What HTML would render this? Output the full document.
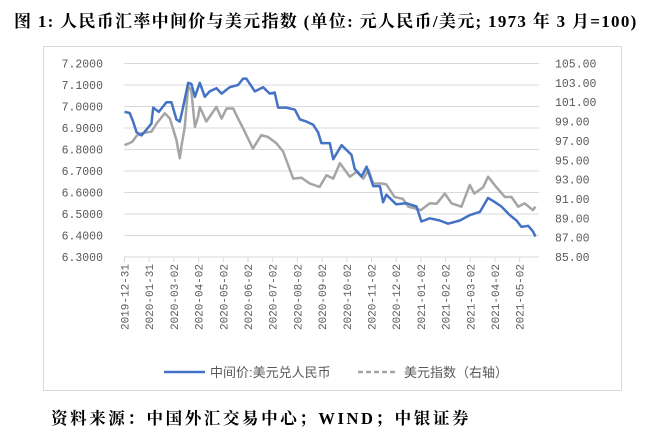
<!DOCTYPE html>
<html><head><meta charset="utf-8"><style>
body{margin:0;width:666px;height:442px;background:#fff;overflow:hidden;position:relative;font-family:"Liberation Serif","Noto Serif CJK SC",serif}
#title{position:absolute;left:14px;top:7px;font-size:17px;font-weight:bold;white-space:nowrap;color:#000;letter-spacing:1.3px}
#src{position:absolute;left:51px;top:405px;font-size:16.5px;font-weight:bold;white-space:nowrap;letter-spacing:2.6px}
svg{position:absolute;left:0;top:0}
</style></head><body>
<div id="title">图 1: 人民币汇率中间价与美元指数 (单位: 元人民币/美元; 1973 年 3 月=100)</div>
<svg id="chart" width="666" height="442"></svg>
<div id="src">资料来源：中国外汇交易中心；WIND；中银证券</div>
<script>
const xLabels=["2019-12-31","2020-01-31","2020-03-02","2020-04-02","2020-05-02","2020-06-02","2020-07-02","2020-08-02","2020-09-02","2020-10-02","2020-11-02","2020-12-02","2021-01-02","2021-02-02","2021-03-02","2021-04-02","2021-05-02"];
const leftTicks=[7.2,7.1,7.0,6.9,6.8,6.7,6.6,6.5,6.4,6.3];
const rightTicks=[105,103,101,99,97,95,93,91,89,87,85];
const cnyMonths=[0,0.21,0.35,0.49,0.69,1.09,1.16,1.39,1.7,1.9,2.1,2.24,2.37,2.58,2.71,2.85,3.05,3.25,3.45,3.72,3.93,4.26,4.6,4.8,4.93,5.28,5.61,5.88,6.08,6.22,6.55,6.9,7.1,7.37,7.64,7.84,7.97,8.31,8.45,8.79,9.19,9.32,9.6,9.8,10.07,10.34,10.47,10.6,11.0,11.42,11.82,12.02,12.36,12.76,13.1,13.58,13.98,14.39,14.72,15.0,15.26,15.6,15.87,16.07,16.34,16.53,16.64];
const cnyValues=[6.975,6.97,6.93,6.88,6.865,6.92,6.995,6.975,7.02,7.02,6.94,6.93,6.995,7.11,7.105,7.045,7.11,7.045,7.07,7.085,7.06,7.09,7.1,7.13,7.13,7.07,7.09,7.06,7.065,6.995,6.995,6.985,6.94,6.93,6.915,6.88,6.83,6.83,6.755,6.82,6.775,6.71,6.675,6.72,6.63,6.63,6.555,6.59,6.545,6.55,6.535,6.465,6.48,6.47,6.455,6.47,6.495,6.51,6.575,6.555,6.535,6.495,6.47,6.44,6.445,6.42,6.395];
const dxyMonths=[0,0.31,0.48,0.69,1.09,1.3,1.63,1.84,2.1,2.24,2.31,2.44,2.58,2.71,2.85,2.98,3.05,3.31,3.72,3.93,4.13,4.4,4.6,4.8,5.2,5.54,5.81,6.15,6.42,6.83,7.16,7.5,7.9,8.18,8.45,8.72,9.12,9.4,9.67,9.88,10.07,10.4,10.6,10.93,11.27,11.49,12.0,12.36,12.63,12.97,13.24,13.64,13.98,14.16,14.52,14.72,15.06,15.4,15.67,15.94,16.2,16.53,16.64];
const dxyValues=[96.56,96.9,97.5,97.8,97.95,98.8,99.85,99.3,97.1,95.2,96.56,98.45,102.75,102.1,98.45,99.5,100.5,99,100.5,99.3,100.35,100.35,99.3,98.3,96.2,97.6,97.4,96.75,95.9,93.1,93.2,92.6,92.25,93.45,93.1,94.7,93.3,93.8,93.1,94.0,92.6,92.6,92.5,91.2,91.0,90.2,89.85,90.55,90.5,91.55,90.55,90.2,92.45,91.55,92.2,93.3,92.2,91.2,91.2,90.2,90.55,89.85,90.2];

const NS="http://www.w3.org/2000/svg";
const svg=document.getElementById('chart');
const X0=124.5,XS=24.7,PL=124,PR=539,PT=63.5,PB=257;
const xAt=m=>X0+XS*m;
const yL=v=>PT+(7.2-v)/0.9*(PB-PT);
const yR=v=>PT+(105-v)/20*(PB-PT);
function mk(tag,attrs){const e=document.createElementNS(NS,tag);for(const k in attrs)e.setAttribute(k,attrs[k]);svg.appendChild(e);return e;}
const box=mk('rect',{x:43.5,y:46.5,width:578,height:344,fill:'none',stroke:'#d9d9d9'});


leftTicks.forEach(v=>{
  const g=mk('line',{x1:PL,x2:PR,y1:yL(v),y2:yL(v),stroke:'#d9d9d9','stroke-width':1});
  
  
  const t=mk('text',{x:103,y:yL(v)+4,'text-anchor':'end','font-size':11.5,fill:'#595959','font-family':'Liberation Mono, monospace'});
  t.textContent=v.toFixed(4);
  
  
});
rightTicks.forEach(v=>{
  const t=mk('text',{x:555,y:yR(v)+4,'font-size':11.5,fill:'#595959','font-family':'Liberation Mono, monospace'});
  t.textContent=v.toFixed(2);
  
  
});
const ax=mk('line',{x1:PL,x2:PR,y1:PB,y2:PB,stroke:'#d9d9d9'});


xLabels.forEach((l,i)=>{
  const x=xAt(i);
  const tk=mk('line',{x1:x,x2:x,y1:PB,y2:PB+5,stroke:'#d9d9d9'});
  
  
  const t=mk('text',{x:0,y:0,'text-anchor':'end','font-size':11,fill:'#595959','font-family':'Liberation Mono, monospace',transform:`translate(${x+4},${PB+7}) rotate(-90)`});
  t.textContent=l;
  
  
});
const pd=(ms,vs,f)=>ms.map((m,i)=>(i?'L':'M')+xAt(m).toFixed(1)+','+f(vs[i]).toFixed(1)).join('');
const g1=mk('path',{d:pd(dxyMonths,dxyValues,yR),fill:'none',stroke:'#a5a5a5','stroke-width':2.5,'stroke-linejoin':'round'});


const b1=mk('path',{d:pd(cnyMonths,cnyValues,yL),fill:'none',stroke:'#4472c4','stroke-width':2.5,'stroke-linejoin':'round'});


const lb=mk('line',{x1:164,x2:205,y1:372,y2:372,stroke:'#4472c4','stroke-width':2.5});


const lt=mk('text',{x:210,y:377,'font-size':13,fill:'#595959','font-family':'Liberation Sans, Noto Sans CJK SC, sans-serif'});
lt.textContent='中间价:美元兑人民币';


const lg=mk('line',{x1:358,x2:398,y1:372,y2:372,stroke:'#a5a5a5','stroke-width':2.5,'stroke-dasharray':'5,3'});


const lt2=mk('text',{x:404,y:377,'font-size':13,fill:'#595959','font-family':'Liberation Sans, Noto Sans CJK SC, sans-serif'});
lt2.textContent='美元指数（右轴）';


</script>
</body></html>
